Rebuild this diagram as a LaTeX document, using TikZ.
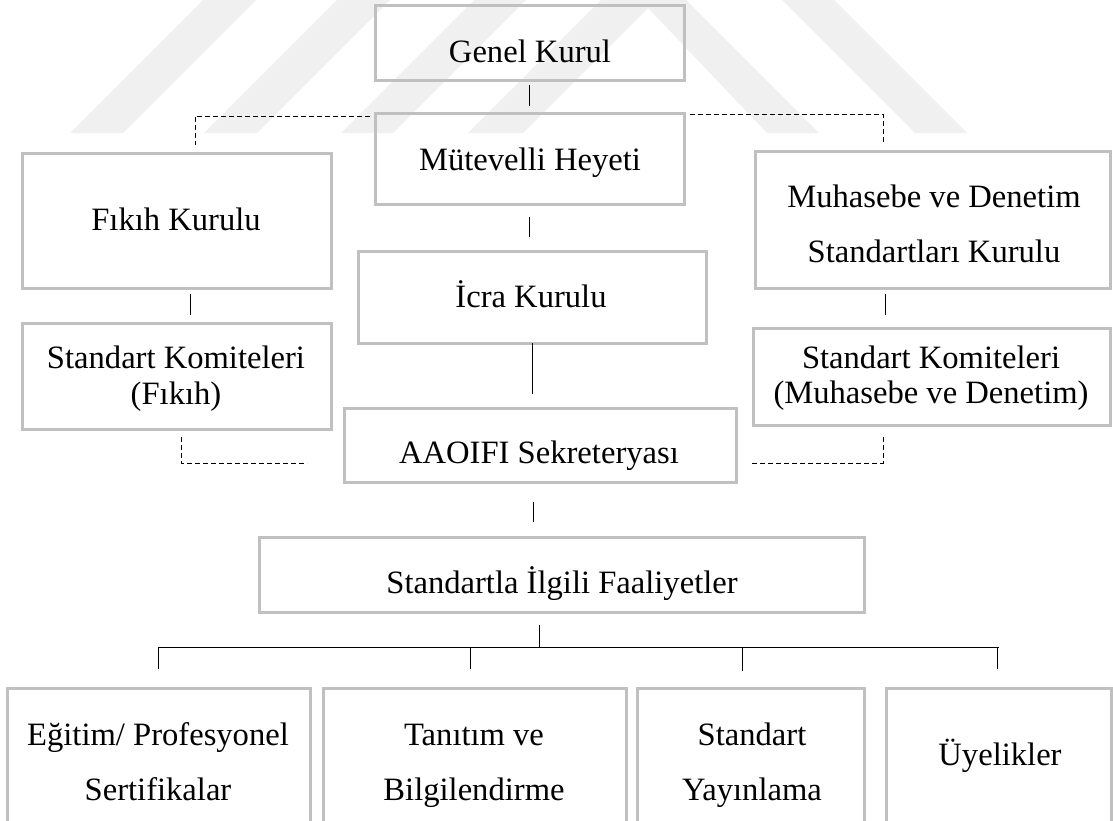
\documentclass[tikz,border=0pt]{standalone}
\usepackage{fontspec}
\setmainfont{Liberation Serif}
\usetikzlibrary{calc}
\definecolor{boxgray}{HTML}{C0C0C0}
\definecolor{wmark}{HTML}{F0F0F0}
\tikzset{
  box/.style={draw=boxgray, line width=1.5pt, rectangle, inner sep=0pt, outer sep=0pt},
  txt/.style={anchor=base, inner sep=0pt, outer sep=0pt, font=\fontsize{16.3}{19}\selectfont},
  conn/.style={draw=black, line width=0.5pt},
  dashline/.style={draw=black, line width=0.5pt, dash pattern=on 2.6pt off 1.4pt},
}
\begin{document}
\begin{tikzpicture}[x=0.5pt,y=-0.5pt]
\useasboundingbox (0,0) rectangle (1113,820);
\clip (0,0) rectangle (1113,820);
% faint watermark
\fill[wmark] (70,133) -- (123,133) -- (256,0) -- (203,0) -- cycle;
\fill[wmark] (204,133) -- (257,133) -- (390,0) -- (337,0) -- cycle;
\fill[wmark] (341,133) -- (393,133) -- (526,0) -- (474,0) -- cycle;
\fill[wmark] (468,133) -- (643.5,-42.5) -- (819,133) -- (767,133) -- (648,8) -- (523,133) -- cycle;
\fill[wmark] (915,133) -- (967,133) -- (834,0) -- (782,0) -- cycle;

% boxes
\node[box, minimum width=154.5pt, minimum height=37.5pt] (genel) at (529.5,42.5) {};
\node[box, minimum width=154.5pt, minimum height=45.5pt] (mut) at (529.5,158.5) {};
\node[box, minimum width=154.5pt, minimum height=67.5pt] (fikih) at (176.5,220.5) {};
\node[box, minimum width=177.5pt, minimum height=68.5pt] (muh) at (932.5,219.5) {};
\node[box, minimum width=174pt, minimum height=46pt] (icra) at (532,297) {};
\node[box, minimum width=154.5pt, minimum height=53pt] (skf) at (176.5,376) {};
\node[box, minimum width=178.5pt, minimum height=48.5pt] (skm) at (931.5,376.5) {};
\node[box, minimum width=196pt, minimum height=37pt] (aaoifi) at (540,445) {};
\node[box, minimum width=302.5pt, minimum height=37.5pt] (std) at (561.5,574.5) {};
\node[box, minimum width=151.5pt, minimum height=76pt] (b1) at (158.5,764) {};
\node[box, minimum width=151.5pt, minimum height=76pt] (b2) at (474.5,764) {};
\node[box, minimum width=113.5pt, minimum height=76pt] (b3) at (750.5,764) {};
\node[box, minimum width=112.5pt, minimum height=76pt] (b4) at (998.5,764) {};

% texts
\node[txt] (genelT) at (530,62) {Genel Kurul};
\node[txt] (mutT) at (530,170) {Mütevelli Heyeti};
\node[txt] (fikihT) at (176,230) {Fıkıh Kurulu};
\node[txt] (muhTa) at (934,207) {Muhasebe ve Denetim};
\node[txt] (muhTb) at (934,262) {Standartları Kurulu};
\node[txt] (icraT) at (531,307) {İcra Kurulu};
\node[txt] (skfTa) at (176,368) {Standart Komiteleri};
\node[txt] (skfTb) at (176,404) {(Fıkıh)};
\node[txt] (skmTa) at (931,368) {Standart Komiteleri};
\node[txt] (skmTb) at (931,403) {(Muhasebe ve Denetim)};
\node[txt] (aaoifiT) at (539,463) {AAOIFI Sekreteryası};
\node[txt] (stdT) at (562,593) {Standartla İlgili Faaliyetler};
\node[txt] (b1Ta) at (158,745) {Eğitim/ Profesyonel};
\node[txt] (b1Tb) at (158,800) {Sertifikalar};
\node[txt] (b2Ta) at (474,745) {Tanıtım ve};
\node[txt] (b2Tb) at (474,800) {Bilgilendirme};
\node[txt] (b3Ta) at (752,745) {Standart};
\node[txt] (b3Tb) at (752,800) {Yayınlama};
\node[txt] (b4T) at (1000,765) {Üyelikler};

% solid connectors
\draw[conn, shorten <=2.5pt, shorten >=3.5pt] (genel.south) -- (genel.south |- mut.north);
\draw[conn, shorten <=6.5pt, shorten >=7pt] (mut.south) -- (mut.south |- icra.north);
\draw[conn, shorten <=3pt, shorten >=4pt] ([xshift=6.75pt]fikih.south) -- ([xshift=6.75pt]fikih.south |- skf.north);
\draw[conn, shorten <=3pt, shorten >=6.5pt] ([xshift=-23.75pt]muh.south) -- ([xshift=-23.75pt]muh.south |- skm.north);
\draw[conn, shorten >=7pt] (icra.south) -- (icra.south |- aaoifi.north);
\draw[conn, shorten <=10pt, shorten >=7.5pt] ([xshift=-3.5pt]aaoifi.south) -- ([xshift=-3.5pt]aaoifi.south |- std.north);

% tree below Standartla
\coordinate (hub) at (539,647);
\draw[conn, shorten <=6.5pt] (std.south -| hub) -- (hub);
\draw[conn] (b1.north |- hub) -- (b4.north |- hub);
\draw[conn, shorten >=9.5pt] (b1.north |- hub) -- (b1.north);
\draw[conn, shorten >=9.5pt] ([xshift=-2.25pt]b2.north |- hub) -- ([xshift=-2.25pt]b2.north);
\draw[conn, shorten >=8.5pt] ([xshift=-4.25pt]b3.north |- hub) -- ([xshift=-4.25pt]b3.north);
\draw[conn, shorten >=9.5pt] ([xshift=-0.75pt]b4.north |- hub) -- ([xshift=-0.75pt]b4.north);

% dashed connectors
\coordinate (dl) at (195,116);
\coordinate (dr) at (883,114);
\coordinate (bl) at (181,463);
\coordinate (br) at (883,463);
\draw[dashline, shorten <=2.5pt, shorten >=4pt] (mut.west |- dl) -- (dl) -- (dl |- fikih.north);
\draw[dashline, shorten <=3pt, shorten >=3.5pt] (mut.east |- dr) -- (dr) -- (dr |- muh.north);
\draw[dashline, shorten <=4pt, shorten >=18.5pt] (bl |- skf.south) -- (bl) -- (bl -| aaoifi.west);
\draw[dashline, shorten <=6pt, shorten >=8pt] (br |- skm.south) -- (br) -- (br -| aaoifi.east);
\end{tikzpicture}
\end{document}
